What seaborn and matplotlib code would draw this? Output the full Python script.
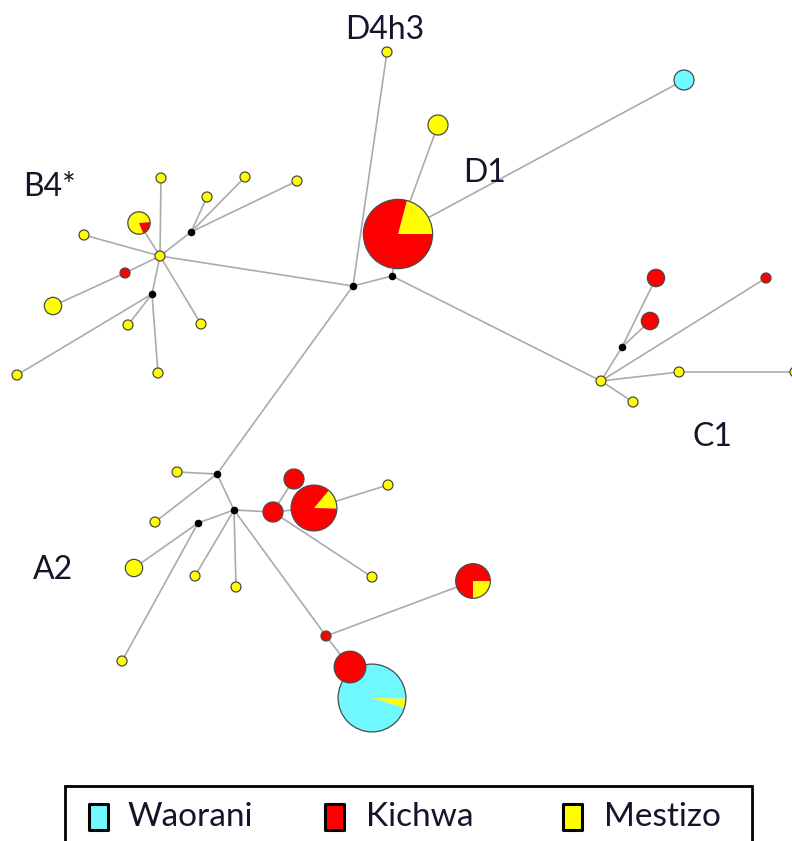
import matplotlib
matplotlib.use("Agg")
import matplotlib.pyplot as plt
from matplotlib.patches import Wedge, Circle, Rectangle
import numpy as np
import pandas as pd
import seaborn as sns

# ---- haplotypes: name, position, sample counts per population ----
hap_names = ["D4h3", "Wao1", "D1a", "D1",
             "B4", "B4a", "B4b", "B4c", "B4d", "B4e", "B4f", "B4g", "B4h",
             "B4i", "B4j", "B4k", "B4l",
             "C1", "C1a", "C1b", "C1c", "C1d", "C1e", "C1f",
             "A2a", "A2b", "A2c", "A2d", "A2e", "A2f", "A2g", "A2h", "A2i",
             "A2j", "A2k", "A2l", "A2m", "A2o", "A2n"]
hap_x = [387, 684, 438, 398,
         160, 161, 207, 245, 297, 139, 84, 125, 53,
         128, 158, 17, 201,
         601, 656, 650, 766, 679, 795, 633,
         177, 155, 195, 236, 273, 294, 314, 388, 372,
         134, 122, 326, 473, 372, 350]
hap_y = [52, 80, 125, 234,
         256, 178, 197, 177, 181, 223, 235, 273, 306,
         325, 373, 375, 324,
         381, 278, 321, 278, 372, 372, 402,
         472, 522, 576, 587, 512, 479, 508, 485, 577,
         568, 661, 636, 581, 698, 667]
n_waorani = [0, 4, 0, 0,
             0, 0, 0, 0, 0, 0, 0, 0, 0,
             0, 0, 0, 0,
             0, 0, 0, 0, 0, 0, 0,
             0, 0, 0, 0, 0, 0, 0, 0, 0,
             0, 0, 0, 0, 44, 0]
n_kichwa = [0, 0, 0, 38,
            0, 0, 0, 0, 0, 1, 0, 1, 0,
            0, 0, 0, 0,
            0, 3, 3, 1, 0, 0, 0,
            0, 0, 0, 0, 4, 4, 18, 0, 0,
            0, 0, 1, 9, 0, 10]
n_mestizo = [1, 0, 4, 10,
             1, 1, 1, 1, 1, 4, 1, 0, 3,
             1, 1, 1, 1,
             1, 0, 0, 0, 1, 1, 1,
             1, 1, 1, 1, 0, 0, 3, 1, 1,
             3, 1, 0, 3, 2, 0]
# angle (degrees, counter-clockwise from east) where the first slice begins;
# slices run clockwise in the order Mestizo, Kichwa, Waorani
pie_start = [0, 0, 0, 75,
             0, 0, 0, 0, 0, -67, 0, 0, 0,
             0, 0, 0, 0,
             0, 0, 0, 0, 0, 0, 0,
             0, 0, 0, 0, 0, 0, 50, 0, 0,
             0, 0, 0, 0, -1, 0]

# ---- median vectors ----
mv_names = ["mv1", "mv2", "mv3", "mv4", "mv5", "mv6", "mv7", "mv8"]
mv_x = [353, 392, 191, 152, 622, 217, 234, 198]
mv_y = [286, 276, 232, 294, 347, 474, 510, 523]

# ---- network links ----
edge_from = ["D4h3", "mv1", "mv2", "D1", "D1", "mv1", "mv1", "mv2",
             "B4", "B4", "mv3", "mv3", "mv3", "B4", "B4", "B4", "B4g",
             "B4", "mv4", "mv4", "mv4", "B4",
             "C1", "mv5", "mv5", "C1", "C1", "C1d", "C1",
             "mv6", "mv6", "mv6", "mv7", "mv8", "mv8", "mv7", "mv7", "mv7",
             "A2e", "A2e", "A2g", "A2e", "mv7", "A2l", "A2l", "A2n"]
edge_to = ["mv1", "mv2", "D1", "D1a", "Wao1", "B4", "mv6", "C1",
           "B4a", "mv3", "B4b", "B4c", "B4d", "B4e", "B4f", "B4g", "B4h",
           "mv4", "B4i", "B4j", "B4k", "B4l",
           "mv5", "C1a", "C1b", "C1c", "C1d", "C1e", "C1f",
           "A2a", "A2b", "mv7", "mv8", "A2j", "A2k", "A2c", "A2d", "A2e",
           "A2f", "A2g", "A2h", "A2i", "A2l", "A2m", "A2n", "A2o"]

# ---- clade labels ----
clade_labels = ["D4h3", "D1", "B4*", "C1", "A2"]
clade_x = [385, 485, 50, 712, 53]
clade_y = [30, 173, 187, 437, 570]

populations = ["Waorani", "Kichwa", "Mestizo"]
pop_colors = {"Waorani": "#6ff8ff", "Kichwa": "#ff0000", "Mestizo": "#ffff00"}

# ------------------------------------------------------------------
sns.set_theme(style="white")
plt.rcParams["font.family"] = ["Lato", "DejaVu Sans"]

W, H = 792, 841
fig = plt.figure(figsize=(W / 100, H / 100), dpi=100)
ax = fig.add_axes([0, 0, 1, 1])

pos = {n: (x, y) for n, x, y in zip(hap_names, hap_x, hap_y)}
pos.update({n: (x, y) for n, x, y in zip(mv_names, mv_x, mv_y)})

rows = []
for i, (a, b) in enumerate(zip(edge_from, edge_to)):
    for n in (a, b):
        rows.append({"edge": i, "x": pos[n][0], "y": pos[n][1]})
edges = pd.DataFrame(rows)
sns.lineplot(data=edges, x="x", y="y", units="edge", estimator=None,
             sort=False, color="#ababab", linewidth=1.2, ax=ax, zorder=1)

# haplotype pies, area proportional to sample size
for name, x, y, w, k, m, s in zip(hap_names, hap_x, hap_y, n_waorani,
                                  n_kichwa, n_mestizo, pie_start):
    counts = {"Mestizo": m, "Kichwa": k, "Waorani": w}
    total = w + k + m
    r = 5.0 * np.sqrt(total)
    ang = s
    for pop in ["Mestizo", "Kichwa", "Waorani"]:
        c = counts[pop]
        if c == 0:
            continue
        span = 360.0 * c / total
        # y axis is inverted, so visual clockwise = data counter-clockwise
        ax.add_patch(Wedge((x, y), r, -ang, -ang + span,
                           facecolor=pop_colors[pop], edgecolor="none",
                           zorder=3))
        ang -= span
    ax.add_patch(Circle((x, y), r, facecolor="none", edgecolor="#4a4a4a",
                        linewidth=0.9, zorder=3))

mv = pd.DataFrame({"x": mv_x, "y": mv_y})
sns.scatterplot(data=mv, x="x", y="y", color="black", s=30, linewidth=0,
                ax=ax, zorder=4)

ax.set_xlim(0, W)
ax.set_ylim(H, 0)
ax.axis("off")

for lab, x, y in zip(clade_labels, clade_x, clade_y):
    ax.text(x, y, lab, fontsize=23, color="#14142a", ha="center",
            va="center")

# legend box
ax.add_patch(Rectangle((65, 786), 687, 70, facecolor="white",
                       edgecolor="black", linewidth=2.0, zorder=5,
                       clip_on=False))
legend_sq_x = [89, 325, 563]
legend_txt_x = [127, 366, 604]
for pop, sx, tx in zip(populations, legend_sq_x, legend_txt_x):
    ax.add_patch(Rectangle((sx, 804), 19, 26, facecolor=pop_colors[pop],
                           edgecolor="black", linewidth=2.2, zorder=6,
                           joinstyle="round"))
    ax.text(tx, 817, pop, fontsize=24, color="#14142a", ha="left",
            va="center", zorder=6)

fig.savefig("out.png", dpi=100)
